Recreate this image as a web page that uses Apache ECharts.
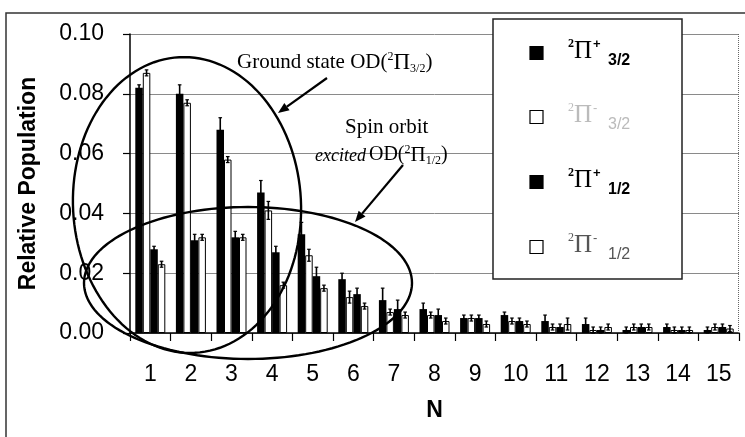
<!DOCTYPE html>
<html><head><meta charset="utf-8">
<script src="https://cdn.jsdelivr.net/npm/echarts@6/dist/echarts.min.js"></script>
<style>html,body{margin:0;padding:0;background:#fff}#c{width:745px;height:437px}</style>
</head><body><div id="c"></div>
<script>
// ---- data ----
const categories = ['1','2','3','4','5','6','7','8','9','10','11','12','13','14','15'];
const seriesNames = ['²Π⁺3/2', '²Π⁻3/2', '²Π⁺1/2', '²Π⁻1/2'];
const pop32plus  = [0.082,0.080,0.068,0.047,0.033,0.018,0.011,0.008,0.005,0.006,0.004,0.003,0.001,0.002,0.001];
const pop32minus = [0.087,0.077,0.058,0.041,0.026,0.012,0.007,0.006,0.005,0.004,0.002,0.001,0.002,0.001,0.002];
const pop12plus  = [0.028,0.031,0.032,0.027,0.019,0.013,0.008,0.006,0.005,0.004,0.002,0.001,0.002,0.001,0.002];
const pop12minus = [0.023,0.032,0.032,0.016,0.015,0.009,0.006,0.004,0.003,0.003,0.003,0.002,0.002,0.001,0.0015];
const err32plus  = [0.001,0.003,0.004,0.004,0.004,0.002,0.004,0.002,0.001,0.001,0.002,0.002,0.001,0.001,0.001];
const err32minus = [0.001,0.001,0.001,0.003,0.002,0.002,0.001,0.001,0.001,0.001,0.001,0.001,0.001,0.001,0.001];
const err12plus  = [0.001,0.002,0.002,0.002,0.003,0.002,0.003,0.002,0.001,0.001,0.001,0.001,0.001,0.001,0.001];
const err12minus = [0.001,0.001,0.001,0.001,0.001,0.001,0.001,0.001,0.001,0.001,0.002,0.001,0.001,0.001,0.001];
const yTicks = [0, 0.02, 0.04, 0.06, 0.08, 0.10];
const legendSign = ['+', '-', '+', '-'];
const legendSub = ['3/2', '3/2', '1/2', '1/2'];

// ---- chart ----
const chart = echarts.init(document.getElementById('c'), null, {renderer: 'canvas'});
const BW = 7.5;
const offsets = [-1.5 * BW, -0.5 * BW, 0.5 * BW, 1.5 * BW];
const fills = ['#000', '#fff', '#000', '#fff'];
const values = [pop32plus, pop32minus, pop12plus, pop12minus];
const errors = [err32plus, err32minus, err12plus, err12minus];

function barSeries(k) {
  return {
    name: seriesNames[k], type: 'bar', data: values[k], barWidth: BW, barGap: '0%',
    itemStyle: {color: fills[k], borderColor: '#000', borderWidth: k % 2 ? 1 : 0},
    z: 3
  };
}
function errSeries(k) {
  return {
    type: 'custom', z: 6, silent: true,
    data: values[k].map((v, i) => [i, v, errors[k][i]]),
    renderItem: function (params, api) {
      const i = api.value(0), v = api.value(1), e = api.value(2);
      const x = api.coord([i, v])[0] + offsets[k];
      const yT = api.coord([i, v + e])[1];
      const yB = api.coord([i, Math.max(0, v - e)])[1];
      return {type: 'group', children: [
        {type: 'line', shape: {x1: x, y1: yT, x2: x, y2: yB}, style: {stroke: '#000', lineWidth: 1.6}},
        {type: 'line', shape: {x1: x - 1.8, y1: yT, x2: x + 1.8, y2: yT}, style: {stroke: '#000', lineWidth: 1.2}},
        {type: 'line', shape: {x1: x - 1.8, y1: yB, x2: x + 1.8, y2: yB}, style: {stroke: '#000', lineWidth: 1.2}}
      ]};
    }
  };
}

// annotation helpers (pixel-space decorations)
function ellipsePts(cx, cy, rx, ry, rotDeg) {
  const pts = [], r = rotDeg * Math.PI / 180;
  for (let i = 0; i <= 140; i++) {
    const t = i / 140 * Math.PI * 2;
    const ex = rx * Math.cos(t), ey = ry * Math.sin(t);
    pts.push([cx + ex * Math.cos(r) - ey * Math.sin(r), cy + ex * Math.sin(r) + ey * Math.cos(r)]);
  }
  return pts;
}
function arrow(x1, y1, x2, y2) {
  const a = Math.atan2(y2 - y1, x2 - x1), L = 11, W = 4.5;
  const bx = x2 - L * Math.cos(a), by = y2 - L * Math.sin(a);
  return [
    {type: 'line', shape: {x1: x1, y1: y1, x2: bx, y2: by}, style: {stroke: '#000', lineWidth: 2.2}, z: 20},
    {type: 'polygon', shape: {points: [[x2, y2], [bx - W * Math.sin(a), by + W * Math.cos(a)], [bx + W * Math.sin(a), by - W * Math.cos(a)]]},
     style: {fill: '#000'}, z: 20}
  ];
}
function txt(s, x, y, font, color) {
  return {type: 'text', x: x, y: y, z: 30, style: {text: s, font: font, fill: color || '#000', textAlign: 'left', textVerticalAlign: 'middle'}};
}
const mctx = document.createElement('canvas').getContext('2d');
// place a run of text pieces one after another: [text, font, dy, gapAfter]
function chain(x, y, pieces, color, out) {
  let cx = x;
  pieces.forEach(p => {
    out.push(txt(p[0], cx, y + (p[2] || 0), p[1], color));
    mctx.font = p[1];
    cx += mctx.measureText(p[0]).width + (p[3] || 0);
  });
}
const SERIF = '"Liberation Serif", "Times New Roman", serif';
const SANS = '"Liberation Sans", Arial, sans-serif';

const graphics = [];
// outer frame
graphics.push({type: 'polyline', shape: {points: [[6, 440], [6, 13], [748, 13]]}, style: {stroke: '#333', lineWidth: 1.5, fill: null}, z: 1});
// plot right edge (dotted)
graphics.push({type: 'line', shape: {x1: 738.5, y1: 34, x2: 738.5, y2: 333}, style: {stroke: '#666', lineWidth: 1, lineDash: [1, 1]}, z: 1});
// ellipses
graphics.push({type: 'polyline', shape: {points: ellipsePts(187, 205, 114, 148, -3)}, style: {stroke: '#000', lineWidth: 2.4, fill: null}, z: 20});
graphics.push({type: 'polyline', shape: {points: ellipsePts(248, 283, 164, 76, 0)}, style: {stroke: '#000', lineWidth: 2.4, fill: null}, z: 20});
// arrows
arrow(327, 78, 278, 113).forEach(g => graphics.push(g));
arrow(403, 165, 355, 222).forEach(g => graphics.push(g));
// annotation texts
chain(237, 62, [
  ['Ground state OD(', '21px ' + SERIF, 0],
  ['2', '12px ' + SERIF, -5],
  ['Π', '23px ' + SERIF, 1],
  ['3/2', '12px ' + SERIF, 7],
  [')', '21px ' + SERIF, 0]
], '#000', graphics);
graphics.push(txt('Spin orbit', 345, 127, '21px ' + SERIF));
chain(315, 155, [
  ['excited', 'italic 18px ' + SERIF, 1, 3],
  ['OD(', '20px ' + SERIF, 0],
  ['2', '12px ' + SERIF, -5],
  ['Π', '21px ' + SERIF, 0],
  ['1/2', '12px ' + SERIF, 6],
  [')', '20px ' + SERIF, 0]
], '#000', graphics);
// legend box
graphics.push({type: 'rect', shape: {x: 493, y: 19, width: 189, height: 260}, style: {fill: '#fff', stroke: '#222', lineWidth: 1.5}, z: 25});
const legendY = [53, 117, 182, 247];
const legendColor = ['#000', '#bbb', '#000', '#555'];
const legendWeight = ['bold', 'normal', 'bold', 'normal'];
seriesNames.forEach((nm, k) => {
  const cy = legendY[k];
  graphics.push({type: 'rect', shape: {x: 530, y: cy - 6.5, width: 13, height: 13},
    style: {fill: fills[k], stroke: '#000', lineWidth: 1.2}, z: 30});
  graphics.push(txt('2', 568, cy - 9.5, legendWeight[k] + ' 12px ' + SERIF, legendColor[k]));
  graphics.push(txt('Π', 574, cy - 2, '25px ' + SERIF, legendColor[k]));
  graphics.push(txt(legendSign[k], 593, cy - 8.5, legendWeight[k] + ' 13px ' + SANS, legendColor[k]));
  graphics.push(txt(legendSub[k], 608, cy + 7.5, legendWeight[k] + ' 16px ' + SANS, legendColor[k]));
});

const series = [0, 1, 2, 3].map(barSeries).concat([0, 1, 2, 3].map(errSeries));

chart.setOption({
  animation: false,
  backgroundColor: '#fff',
  grid: {left: 130, right: 6, top: 34, bottom: 104, containLabel: false},
  xAxis: {
    type: 'category', data: categories,
    name: 'N', nameLocation: 'middle', nameGap: 66,
    nameTextStyle: {fontFamily: SANS, fontSize: 23, fontWeight: 'bold', color: '#000'},
    axisLine: {lineStyle: {color: '#000', width: 1.5}},
    axisTick: {show: true, length: 8, lineStyle: {color: '#000', width: 1.2}},
    axisLabel: {fontFamily: SANS, fontSize: 23, color: '#000', margin: 30, interval: 0},
    splitLine: {show: false}
  },
  yAxis: {
    type: 'value', min: yTicks[0], max: yTicks[yTicks.length - 1], interval: 0.02,
    name: 'Relative Population', nameLocation: 'middle', nameGap: 90,
    nameTextStyle: {fontFamily: SANS, fontSize: 23, fontWeight: 'bold', color: '#000'},
    axisLine: {show: true, lineStyle: {color: '#000', width: 1.5}},
    axisTick: {show: true, length: 7, lineStyle: {color: '#000', width: 1.2}},
    axisLabel: {fontFamily: SANS, fontSize: 23, color: '#000', margin: 26, formatter: v => v.toFixed(2)},
    splitLine: {show: true, lineStyle: {color: '#8a8a8a', width: 1}}
  },
  series: series,
  graphic: graphics
});
</script>
</body></html>
